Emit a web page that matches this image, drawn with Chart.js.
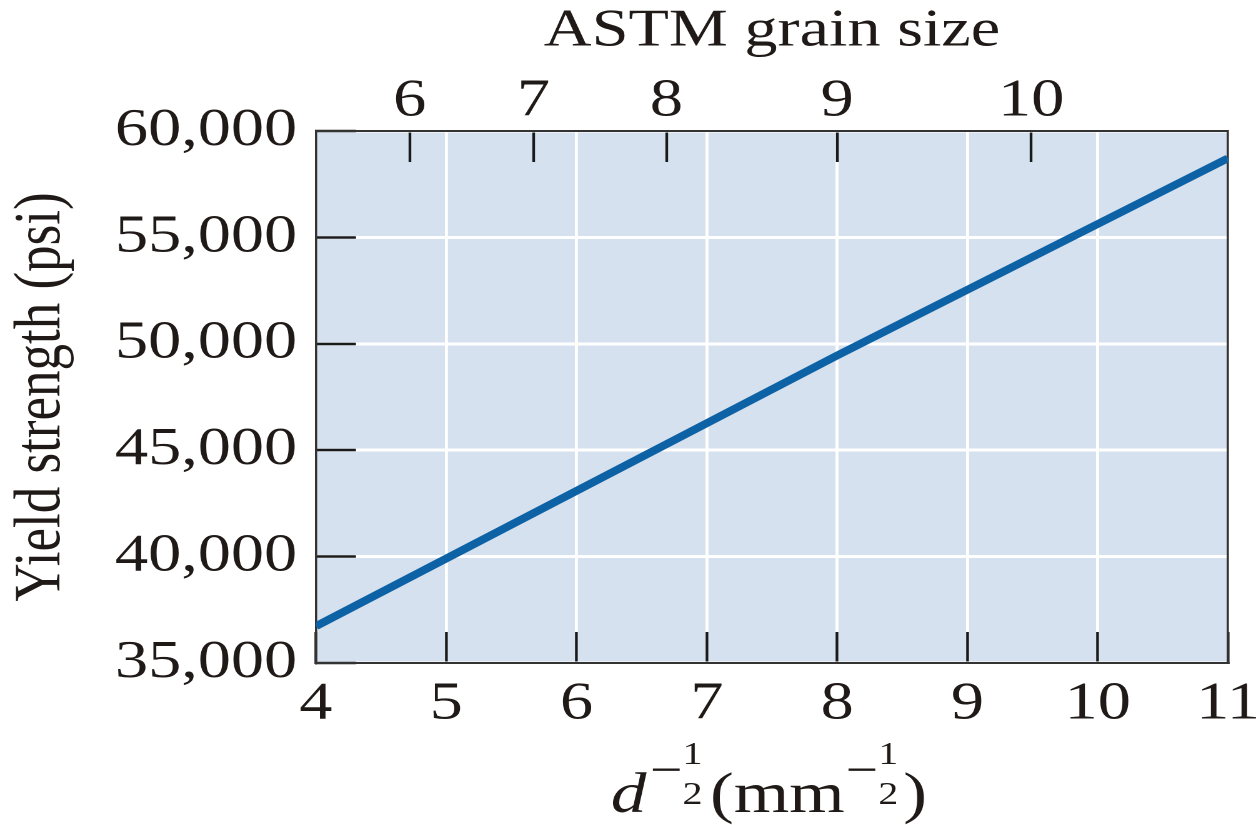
<!DOCTYPE html>
<html>
<head>
<meta charset="utf-8">
<script src="https://cdn.jsdelivr.net/npm/chart.js@4.4.1/dist/chart.umd.min.js"></script>
<style>
  html, body { margin: 0; padding: 0; background: #ffffff; }
  #c { display: block; width: 1256px; height: 825px; }
</style>
</head>
<body>
<canvas id="c" width="1005" height="825" style="width:1256px;height:825px;"></canvas>
<script>
// ---- data ----
const grainParam = [4, 8, 11];                 // d^-1/2 (mm^-1/2)
const yieldStrength = [36730, 49450, 58720];   // psi
const xTicks = [4, 5, 6, 7, 8, 9, 10, 11];
const yTicks = [35000, 40000, 45000, 50000, 55000, 60000];
const astmGrainSizes = [6, 7, 8, 9, 10];
const astmPositions = [4.72, 5.67, 6.69, 8.0, 9.49]; // on the d^-1/2 scale

const FONT = '"Liberation Serif", "Times New Roman", serif';
const TEXT = '#1f1a17';
const PLOT_BG = '#d5e1ee';
const LINE = '#0d62a6';

const bgPlugin = {
  id: 'plotBg',
  beforeDraw(chart) {
    const {ctx, chartArea: a} = chart;
    ctx.save();
    ctx.fillStyle = PLOT_BG;
    ctx.fillRect(a.left, a.top, a.right - a.left, a.bottom - a.top);
    ctx.restore();
  }
};

const xTitlePlugin = {
  id: 'xTitle',
  afterDraw(chart) {
    const {ctx, chartArea: a} = chart;
    const big = '57px ' + FONT;
    const bigIt = 'italic 57px ' + FONT;
    const small = '32px ' + FONT;
    const minusF = '46px ' + FONT;
    const baseline = 812;
    const fracMid = 774;
    ctx.save();
    ctx.fillStyle = TEXT;
    ctx.textBaseline = 'alphabetic';
    ctx.textAlign = 'left';
    const w = (f, t) => { ctx.font = f; return ctx.measureText(t).width; };
    const fracW = Math.max(w(small, '1'), w(small, '2'));
    const segs = [
      {t: 'd', f: bigIt, type: 'text', gap: 0},
      {t: '\u2212', f: minusF, type: 'minus', gap: 3},
      {type: 'frac', gap: 0},
      {t: '(mm', f: big, type: 'text', gap: 6},
      {t: '\u2212', f: minusF, type: 'minus', gap: 1},
      {type: 'frac', gap: 0},
      {t: ')', f: big, type: 'text', gap: 4}
    ];
    let total = 0;
    segs.forEach(s => { s.w = s.type === 'frac' ? fracW : w(s.f, s.t); total += s.gap + s.w; });
    let x = (a.left + a.right) / 2 - total / 2 - 2.5;
    segs.forEach(s => {
      x += s.gap;
      if (s.type === 'text') {
        ctx.font = s.f; ctx.fillText(s.t, x, baseline);
      } else if (s.type === 'minus') {
        ctx.font = s.f; ctx.fillText(s.t, x, fracMid + 11);
      } else {
        ctx.font = small;
        ctx.textAlign = 'center';
        ctx.fillText('1', x + fracW / 2, 764);
        ctx.fillText('2', x + fracW / 2, 804);
        ctx.textAlign = 'left';
      }
      x += s.w;
    });
    ctx.restore();
  }
};

const tickFont = {family: FONT, size: 53};

new Chart(document.getElementById('c'), {
  type: 'line',
  data: {
    datasets: [{
      data: grainParam.map((v, i) => ({x: v, y: yieldStrength[i]})),
      borderColor: LINE,
      borderWidth: 7.5,
      pointRadius: 0,
      tension: 0,
      fill: false,
      xAxisID: 'x',
      yAxisID: 'y'
    }]
  },
  plugins: [bgPlugin, xTitlePlugin],
  options: {
    responsive: false,
    devicePixelRatio: 2,
    animation: false,
    layout: {padding: 0},
    plugins: {legend: {display: false}, tooltip: {enabled: false}, title: {display: false}},
    scales: {
      x: {
        type: 'linear', position: 'bottom', min: 4, max: 11,
        afterBuildTicks: s => { s.ticks = xTicks.map(v => ({value: v})); },
        afterFit: s => { s.height = 162; s.paddingLeft = 0; s.paddingRight = 0; },
        ticks: {font: tickFont, color: TEXT, padding: 41, autoSkip: false, maxRotation: 0, minRotation: 0},
        grid: {color: '#ffffff', lineWidth: 2.4, drawTicks: true, tickLength: -31, tickColor: '#1a1a1a', tickWidth: 2.2},
        border: {display: true, color: '#333333', width: 2},
        title: {display: false}
      },
      x2: {
        type: 'linear', position: 'top', min: 4, max: 11,
        afterBuildTicks: s => { s.ticks = astmPositions.map(v => ({value: v})); },
        afterFit: s => { s.height = 131; s.paddingLeft = 0; s.paddingRight = 0; },
        ticks: {font: tickFont, color: TEXT, padding: 28.5, autoSkip: false, maxRotation: 0, minRotation: 0,
                callback: (v, i) => String(astmGrainSizes[i])},
        grid: {drawOnChartArea: false, drawTicks: true, tickLength: -31, tickColor: '#1a1a1a', tickWidth: 2.2},
        border: {display: true, color: '#333333', width: 2},
        title: {display: true, text: 'ASTM grain size', font: {family: FONT, size: 53}, color: TEXT, padding: {top: 0, bottom: 0}}
      },
      y: {
        type: 'linear', position: 'left', min: 35000, max: 60000,
        afterBuildTicks: s => { s.ticks = yTicks.map(v => ({value: v})); },
        afterFit: s => { s.width = 252.8; s.paddingTop = 0; s.paddingBottom = 0; },
        ticks: {font: tickFont, color: TEXT, padding: 47, autoSkip: false,
                callback: v => v.toLocaleString('en-US')},
        grid: {color: '#ffffff', lineWidth: 3, drawTicks: true, tickLength: -32, tickColor: '#1a1a1a', tickWidth: 2.6},
        border: {display: true, color: '#333333', width: 1.8},
        title: {display: true, text: 'Yield strength (psi)', font: {family: FONT, size: 53}, color: TEXT, padding: {top: 2, bottom: 0}}
      },
      y2: {
        type: 'linear', position: 'right', min: 35000, max: 60000,
        afterFit: s => { s.width = 22.4; s.paddingTop = 0; s.paddingBottom = 0; },
        ticks: {display: false},
        grid: {drawOnChartArea: false, drawTicks: false},
        border: {display: true, color: '#333333', width: 1.8}
      }
    }
  }
});
</script>
</body>
</html>
